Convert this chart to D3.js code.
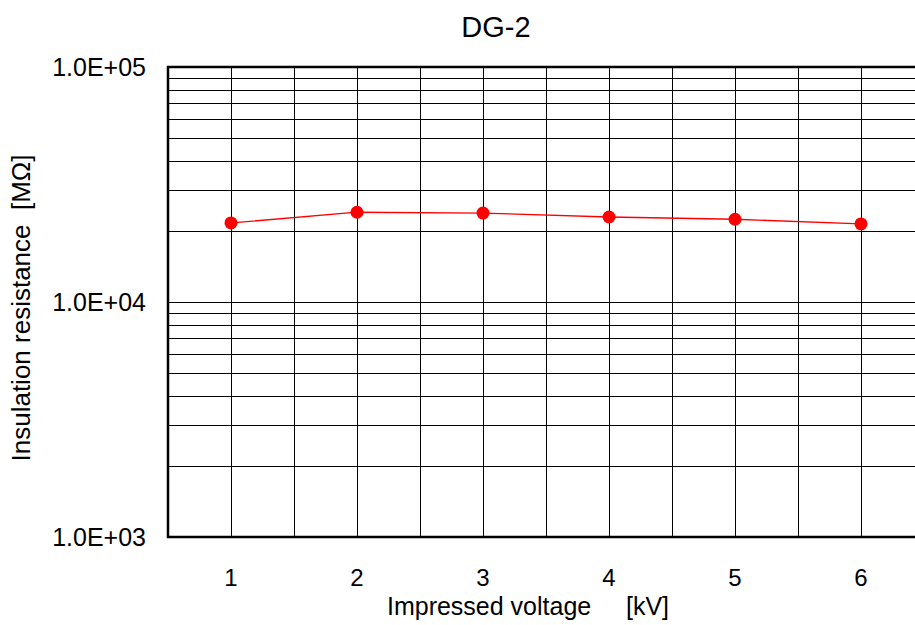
<!DOCTYPE html>
<html lang="en">
<head>
    <meta charset="UTF-8">
    <title>DG-2</title>
    <script src="https://d3js.org/d3.v7.min.js"></script>
    <style>
        body { margin: 0; background: #fff; font-family: "Liberation Sans", Arial, sans-serif; }
        .grid line { stroke: #000; stroke-width: 1px; shape-rendering: crispEdges; }
        .frame { stroke: #000; stroke-width: 2.5px; fill: none; }
        text { fill: #000; }
    </style>
</head>
<body>
    <svg width="915" height="625"></svg>
    <script>
        const voltages = [1, 2, 3, 4, 5, 6];
        const resistance = [21700, 24100, 23900, 23000, 22500, 21500];
        const yTickValues = [1e3, 1e4, 1e5];
        const yTickLabels = ["1.0E+03", "1.0E+04", "1.0E+05"];

        const svg = d3.select("svg");
        const plotLeft = 168, plotTop = 67, plotBottom = 537, plotRight = 915;

        const x = d3.scaleLinear().domain([0.5, 6.5]).range([plotLeft, plotLeft + 6 * 126]);
        const y = d3.scaleLog().domain([1e3, 1e5]).range([plotBottom, plotTop]);

        // horizontal grid (minor log lines)
        const hLines = [];
        [1e3, 1e4].forEach(dec => {
            for (let m = 2; m <= 9; m++) hLines.push(dec * m);
        });
        hLines.push(1e4);

        const grid = svg.append("g").attr("class", "grid");
        grid.selectAll(".h").data(hLines).enter().append("line")
            .attr("x1", plotLeft).attr("x2", plotRight)
            .attr("y1", d => Math.round(y(d)) + 0.5)
            .attr("y2", d => Math.round(y(d)) + 0.5);

        // vertical grid at categories and halfway between
        const vLines = d3.range(1, 6.6, 0.5);
        grid.selectAll(".v").data(vLines).enter().append("line")
            .attr("y1", plotTop).attr("y2", plotBottom)
            .attr("x1", d => Math.round(x(d)) + 0.5)
            .attr("x2", d => Math.round(x(d)) + 0.5);

        // frame
        svg.append("path").attr("class", "frame")
            .attr("d", `M${plotRight + 5},${plotTop}H${plotLeft}V${plotBottom}H${plotRight + 5}`);

        // y tick labels
        svg.selectAll(".ylab").data(yTickValues).enter().append("text")
            .attr("x", 146).attr("y", d => y(d))
            .attr("dy", "0.35em")
            .attr("text-anchor", "end")
            .attr("font-size", 25)
            .text((d, i) => yTickLabels[i]);

        // x tick labels
        svg.selectAll(".xlab").data(voltages).enter().append("text")
            .attr("x", d => x(d)).attr("y", 586)
            .attr("text-anchor", "middle")
            .attr("font-size", 24)
            .text(d => d);

        // titles
        svg.append("text").attr("x", 496).attr("y", 37)
            .attr("text-anchor", "middle").attr("font-size", 29).text("DG-2");

        svg.append("text").attr("x", 528).attr("y", 615)
            .attr("text-anchor", "middle").attr("font-size", 25)
            .style("white-space", "pre")
            .text("Impressed voltage     [kV]");

        svg.append("text")
            .attr("transform", "translate(30,308) rotate(-90)")
            .attr("text-anchor", "middle").attr("font-size", 26)
            .style("white-space", "pre")
            .text("Insulation resistance  [MΩ]");

        // series
        const pts = voltages.map((v, i) => [v, resistance[i]]);
        svg.append("path")
            .attr("d", d3.line().x(d => x(d[0])).y(d => y(d[1]))(pts))
            .attr("fill", "none").attr("stroke", "#ff0000").attr("stroke-width", 1.3);

        svg.selectAll(".pt").data(pts).enter().append("circle")
            .attr("cx", d => x(d[0])).attr("cy", d => y(d[1]))
            .attr("r", 6.5).attr("fill", "#ff0000");
    </script>
</body>
</html>
